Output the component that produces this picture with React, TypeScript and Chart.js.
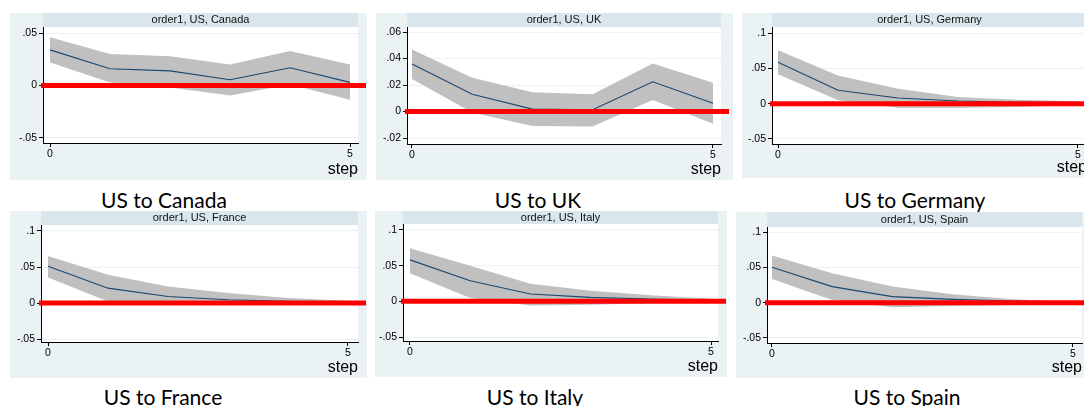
import React, { useEffect, useRef } from 'react';
import { Chart, registerables } from 'chart.js';
Chart.register(...registerables);

// ---------- data ----------
const steps = [0, 1, 2, 3, 4, 5];

const canadaIrf = [0.034, 0.016, 0.014, 0.0055, 0.017, 0.003];
const canadaUpper = [0.046, 0.03, 0.028, 0.02, 0.033, 0.02];
const canadaLower = [0.022, 0.003, -0.002, -0.0095, 0.001, -0.0135];

const ukIrf = [0.0358, 0.013, 0.0018, 0.0013, 0.0225, 0.0063];
const ukUpper = [0.0468, 0.0255, 0.0145, 0.013, 0.0363, 0.0218];
const ukLower = [0.0245, -0.0008, -0.011, -0.0113, 0.0088, -0.0093];

const germanyIrf = [0.0585, 0.019, 0.008, 0.0038, 0.0019, 0.001];
const germanyUpper = [0.0755, 0.04, 0.0212, 0.0094, 0.0057, 0.0033];
const germanyLower = [0.0415, 0.0047, -0.0057, -0.0057, -0.0047, -0.002];

const franceIrf = [0.0512, 0.0207, 0.0092, 0.0046, 0.0023, 0.001];
const franceUpper = [0.0654, 0.0392, 0.023, 0.0138, 0.0069, 0.0032];
const franceLower = [0.0355, 0.0023, -0.0023, -0.0023, -0.0014, -0.001];

const italyIrf = [0.0581, 0.0288, 0.0102, 0.0056, 0.0033, 0.0014];
const italyUpper = [0.0744, 0.0498, 0.0247, 0.0149, 0.0084, 0.0037];
const italyLower = [0.0395, 0.0047, -0.006, -0.0047, -0.0023, -0.001];

const spainIrf = [0.0502, 0.0227, 0.0085, 0.0047, 0.0024, 0.001];
const spainUpper = [0.0668, 0.0417, 0.0227, 0.0118, 0.0047, 0.0014];
const spainLower = [0.0336, 0.0038, -0.0066, -0.0047, -0.0033, -0.0024];

const yTicksNarrow = [-0.05, 0, 0.05];
const yTicksUK = [-0.02, 0, 0.02, 0.04, 0.06];
const yTicksWide = [-0.05, 0, 0.05, 0.1];
const xTicks = [0, 5];

const panelTitles = [
  'order1, US, Canada',
  'order1, US, UK',
  'order1, US, Germany',
  'order1, US, France',
  'order1, US, Italy',
  'order1, US, Spain',
];
const captions = ['US to Canada', 'US to UK', 'US to Germany', 'US to France', 'US to Italy', 'US to Spain'];
const xAxisTitle = 'step';

// ---------- layout (geometry only) ----------
type Panel = {
  title: string;
  caption: string;
  irf: number[];
  upper: number[];
  lower: number[];
  yTicks: number[];
  yMin: number;
  yMax: number;
  xMin: number;
  xMax: number;
  box: [number, number, number, number]; // x, y, w, h
  area: [number, number, number, number]; // l, t, r, b (page coords)
  cap: [number, number]; // caption centre x, cap-centre y
};

const panels: Panel[] = [
  { title: panelTitles[0], caption: captions[0], irf: canadaIrf, upper: canadaUpper, lower: canadaLower,
    yTicks: yTicksNarrow, yMin: -0.0548, yMax: 0.0558, xMin: -0.117, xMax: 5.133,
    box: [10, 13, 357, 167], area: [43, 27, 358, 143], cap: [164, 200] },
  { title: panelTitles[1], caption: captions[1], irf: ukIrf, upper: ukUpper, lower: ukLower,
    yTicks: yTicksUK, yMin: -0.0245, yMax: 0.0638, xMin: -0.083, xMax: 5.133,
    box: [376, 13, 357, 167], area: [407, 27, 721, 144], cap: [538, 200] },
  { title: panelTitles[2], caption: captions[2], irf: germanyIrf, upper: germanyUpper, lower: germanyLower,
    yTicks: yTicksWide, yMin: -0.0571, yMax: 0.1085, xMin: -0.1, xMax: 5.15,
    box: [742, 13, 360, 165], area: [772, 27, 1087, 144], cap: [915, 200] },
  { title: panelTitles[3], caption: captions[3], irf: franceIrf, upper: franceUpper, lower: franceLower,
    yTicks: yTicksWide, yMin: -0.054, yMax: 0.1083, xMin: -0.117, xMax: 5.167,
    box: [10, 211, 357, 167], area: [41, 225, 358, 342], cap: [163, 397] },
  { title: panelTitles[4], caption: captions[4], irf: italyIrf, upper: italyUpper, lower: italyLower,
    yTicks: yTicksWide, yMin: -0.0556, yMax: 0.1084, xMin: -0.116, xMax: 5.116,
    box: [375, 211, 352, 166], area: [403, 224, 718, 341], cap: [535, 397] },
  { title: panelTitles[5], caption: captions[5], irf: spainIrf, upper: spainUpper, lower: spainLower,
    yTicks: yTicksWide, yMin: -0.0571, yMax: 0.1071, xMin: -0.083, xMax: 5.15,
    box: [736, 212, 364, 166], area: [767, 227, 1082, 343], cap: [907, 397] },
];

const OUTER_BG = '#eaf2f3';
const STRIP_BG = '#d9e6eb';
const BAND = '#c0c0c0';
const LINE = '#1a476f';
const RED = '#ff0000';
const FONT = "'Liberation Sans', Arial, sans-serif";

const fmtTick = (v: number) => {
  if (v === 0) return '0';
  const s = String(Math.abs(v)).replace(/^0/, '');
  return (v < 0 ? '-' : '') + s;
};

const panelPlugin = {
  id: 'panelDecor',
  beforeDraw(chart: any) {
    const { ctx, width, height, chartArea } = chart;
    ctx.save();
    ctx.fillStyle = OUTER_BG;
    ctx.fillRect(0, 0, width, height);
    const tb = chart.titleBlock;
    if (tb) {
      ctx.fillStyle = STRIP_BG;
      ctx.fillRect(tb.left, tb.top, tb.width, tb.height);
    }
    ctx.fillStyle = '#ffffff';
    ctx.fillRect(chartArea.left, chartArea.top, chartArea.right - chartArea.left, chartArea.bottom - chartArea.top);
    ctx.restore();
  },
  afterDatasetsDraw(chart: any) {
    const { ctx, chartArea } = chart;
    const y = chart.scales.y.getPixelForValue(0);
    ctx.save();
    ctx.strokeStyle = RED;
    ctx.lineWidth = 5;
    ctx.beginPath();
    ctx.moveTo(chartArea.left - 2, y);
    ctx.lineTo(chartArea.right + 8, y);
    ctx.stroke();
    ctx.restore();
  },
};

function PanelChart({ p }: { p: Panel }) {
  const ref = useRef<HTMLCanvasElement | null>(null);
  useEffect(() => {
    const [bx, by, bw, bh] = p.box;
    const [al, at, ar, ab] = p.area;
    const yAxisW = al - bx;
    const titleH = at - by;
    const rightPad = bx + bw - ar;
    const xAxisH = by + bh - ab;
    const pts = (arr: number[]) => steps.map((s, i) => ({ x: s, y: arr[i] }));
    const chart = new Chart(ref.current as HTMLCanvasElement, {
      type: 'line',
      data: {
        datasets: [
          { label: 'irf', data: pts(p.irf), borderColor: LINE, borderWidth: 1.1, pointRadius: 0, fill: false, tension: 0 },
          { label: 'upper', data: pts(p.upper), borderWidth: 0, borderColor: BAND, backgroundColor: BAND, pointRadius: 0, fill: '+1', tension: 0 },
          { label: 'lower', data: pts(p.lower), borderWidth: 0, borderColor: BAND, pointRadius: 0, fill: false, tension: 0 },
        ],
      },
      options: {
        animation: false,
        responsive: false,
        maintainAspectRatio: false,
        events: [],
        layout: { padding: { left: 0, top: 0, right: rightPad, bottom: 0 } },
        plugins: {
          legend: { display: false },
          tooltip: { enabled: false },
          title: {
            display: true,
            text: p.title,
            fullSize: false,
            position: 'top',
            padding: 0,
            color: '#111',
            font: { family: FONT, size: 11, weight: 'normal', lineHeight: `${titleH}px` },
          },
        },
        scales: {
          x: {
            type: 'linear',
            min: p.xMin,
            max: p.xMax,
            afterBuildTicks: (s: any) => { s.ticks = xTicks.map((v) => ({ value: v })); },
            afterFit: (s: any) => { s.height = xAxisH; s.paddingLeft = 0; s.paddingRight = 0; },
            ticks: { color: '#000', font: { family: FONT, size: 10.5 }, padding: 1, maxRotation: 0, autoSkip: false,
              callback: (v: any) => String(v) },
            grid: { drawOnChartArea: false, tickColor: '#000', tickLength: 4 },
            border: { display: true, color: '#000', width: 1 },
            title: { display: true, text: xAxisTitle, align: 'end', color: '#000',
              font: { family: FONT, size: 16 }, padding: { top: 0, bottom: 1 } },
          },
          y: {
            type: 'linear',
            min: p.yMin,
            max: p.yMax,
            afterBuildTicks: (s: any) => { s.ticks = p.yTicks.map((v) => ({ value: v })); },
            afterFit: (s: any) => { s.width = yAxisW; s.paddingTop = 0; s.paddingBottom = 0; },
            ticks: { color: '#000', font: { family: FONT, size: 10.5 }, padding: 2, autoSkip: false,
              callback: (v: any) => fmtTick(Number(v)) },
            grid: { color: OUTER_BG, lineWidth: 1, tickColor: '#000', tickLength: 4 },
            border: { display: true, color: '#000', width: 1 },
          },
        },
      },
      plugins: [panelPlugin],
    } as any);
    return () => chart.destroy();
  }, [p]);
  const [bx, by, bw, bh] = p.box;
  return (
    <canvas
      ref={ref}
      width={bw}
      height={bh}
      style={{ position: 'absolute', left: bx, top: by, width: bw, height: bh }}
    />
  );
}

function Caption({ p }: { p: Panel }) {
  return (
    <div
      style={{
        position: 'absolute',
        left: p.cap[0] - 100,
        width: 200,
        top: p.cap[1] - 13,
        height: 25,
        lineHeight: '25px',
        textAlign: 'center',
        fontFamily: "Lato, 'Open Sans', sans-serif",
        fontSize: 21,
        color: '#000',
        whiteSpace: 'nowrap',
      }}
    >
      {p.caption}
    </div>
  );
}

export default function App() {
  const top = panels.slice(0, 3);
  const bottom = panels.slice(3);
  return (
    <div
      style={{
        position: 'fixed',
        left: 0,
        top: 0,
        width: 1084,
        height: 406,
        overflow: 'hidden',
        background: '#ffffff',
      }}
    >
      {top.map((p) => <PanelChart key={p.title} p={p} />)}
      {top.map((p) => <Caption key={p.caption} p={p} />)}
      {bottom.map((p) => <PanelChart key={p.title} p={p} />)}
      {bottom.map((p) => <Caption key={p.caption} p={p} />)}
    </div>
  );
}
